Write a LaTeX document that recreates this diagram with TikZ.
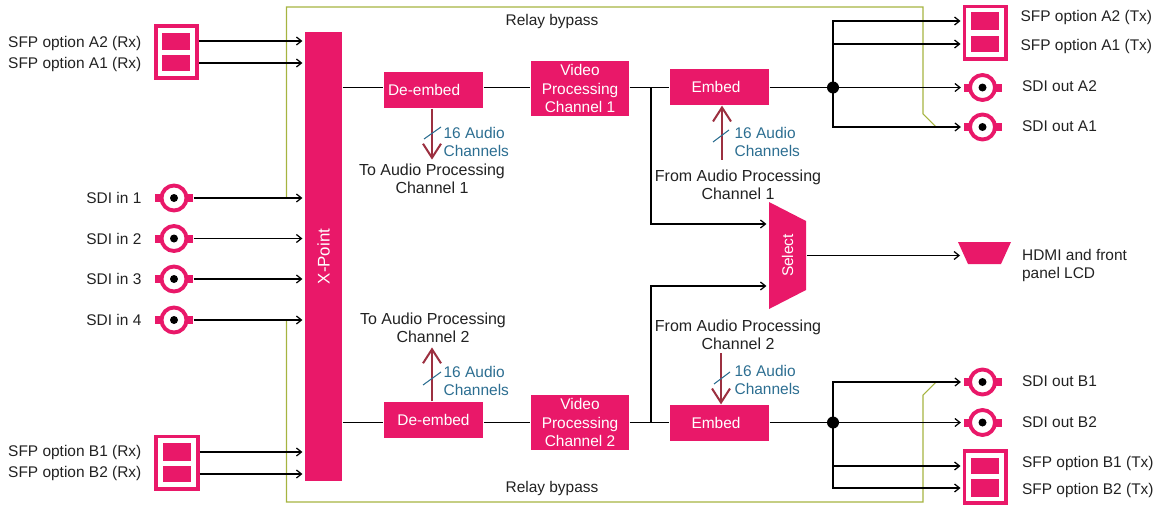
\documentclass[tikz,border=0pt]{standalone}
\usepackage{fontspec}
\setmainfont{Liberation Sans}
\usetikzlibrary{arrows.meta, positioning, calc}
\definecolor{sigpink}{HTML}{E91869}
\definecolor{bypass}{HTML}{A6B440}
\definecolor{audiored}{HTML}{9C3040}
\definecolor{audioblue}{HTML}{2C6E91}
\definecolor{labelgray}{HTML}{222222}

\tikzset{
  every node/.style={font=\fontsize{8.8}{10.4}\selectfont, text=labelgray, align=center},
  procbox/.style={fill=sigpink, text=white, inner sep=0pt, minimum width=1.98cm, minimum height=.72cm},
  videobox/.style={procbox, minimum width=1.96cm, minimum height=1.1cm},
  cage/.style={draw=sigpink, fill=white, line width=2pt, inner sep=0pt, minimum width=.83cm, minimum height=1.05cm},
  slot/.style={fill=sigpink, inner sep=0pt, minimum width=.56cm},
  rlabel/.style={anchor=east, align=right, inner sep=0pt},
  llabel/.style={anchor=west, align=left, inner sep=0pt},
  audiolab/.style={font=\fontsize{9.1}{10.4}\selectfont},
  audio/.style={draw=audiored, line width=1.15pt, shorten >=0pt, -{Straight Barb[length=.28cm,width=.36cm]}},
  chan/.style={anchor=west, align=left, inner sep=0pt, text=audioblue},
  slash/.style={-, draw=audioblue, line width=.6pt, shorten >=0pt},
  bnc/.pic={
    \node[fill=sigpink, inner sep=0pt, minimum width=.76cm, minimum height=.16cm] (-tab) at (0,0) {};
    \node[circle, draw=sigpink, fill=white, line width=2.2pt, inner sep=0pt, minimum size=.5cm] (-ring) at (0,0) {};
    \node[circle, fill=black, inner sep=0pt, minimum size=.16cm] (-pin) at (0,0) {};
  }
}

\begin{document}
\begin{tikzpicture}[x=.02cm,y=-.02cm,->,>={Straight Barb[length=.1cm,width=.16cm]},shorten >=.04cm,line width=.7pt]
  \useasboundingbox (0,0) rectangle (1155,504);

  % relay bypass path
  \draw[-, draw=bypass, line width=.6pt, shorten >=0pt] (286.5,197) |- (923,7) -- (923,114) -- (936,127);
  \draw[-, draw=bypass, line width=.6pt, shorten >=0pt] (286.5,320) |- (923,502) -- (923,395) -- (936,382);
  \node (bypasstop) at (552,21.5) {Relay bypass};
  \node (bypassbot) at (552,488.5) {Relay bypass};

  % main blocks
  \node[procbox, font=\fontsize{9.6}{10.4}\selectfont, minimum width=.74cm, minimum height=8.98cm] (xpoint) at (323.5,256.5) {\rotatebox{90}{X-Point}};
  \node[procbox, text width=1.82cm, align=left, inner xsep=.08cm] (deembed1) at (433.5,90) {De-embed};
  \node[procbox] (deembed2) at (433.5,420) {De-embed};
  \node[videobox] (video1) at (580,88.5) {Video\\Processing\\Channel 1};
  \node[videobox] (video2) at (580,422.5) {Video\\Processing\\Channel 2};
  \node[procbox] (embed1) at (719.5,87) {Embed\hspace{.14cm}};
  \node[procbox] (embed2) at (719.5,423) {Embed\hspace{.14cm}};

  \fill[sigpink] (769,202) -- (806,221) -- (806,290) -- (769,309) -- cycle;
  \node[text=white, inner sep=0pt, minimum width=.74cm, minimum height=2.14cm] (select) at (787.5,255.5) {\rotatebox{90}{Select}};
  \fill[sigpink] (958,242) -- (1011,242) -- (1001,264) -- (968,264) -- cycle;
  \coordinate (hdmi) at (962,255.5);

  % sfp cages
  \node[cage] (sfprxa) at (176.5,52) {};
  \node[slot, minimum height=.34cm] (rxa2) at (176,41) {};
  \node[slot, minimum height=.32cm] (rxa1) at (176,63) {};
  \node[cage] (sfprxb) at (177,462.5) {};
  \node[slot, minimum height=.36cm] (rxb1) at (177,452) {};
  \node[slot, minimum height=.32cm] (rxb2) at (177,474) {};
  \node[cage] (sfptxa) at (985,32.5) {};
  \node[slot, minimum height=.36cm] (txa2) at (985,21) {};
  \node[slot, minimum height=.32cm] (txa1) at (985,44) {};
  \node[cage] (sfptxb) at (985,477) {};
  \node[slot, minimum height=.32cm] (txb1) at (985,466) {};
  \node[slot, minimum height=.36cm] (txb2) at (985,488) {};

  % sdi connectors
  \foreach \n/\y in {1/198,2/238.5,3/279,4/320} {
    \pic (in\n) at (174,\y) {bnc};
    \node[rlabel] (inlabel\n) at (142,\y) {SDI in \n};
    \path (in\n-tab.east) edge (xpoint.west |- in\n-tab.east);
  }
  \pic (outa2) at (982.5,87.5) {bnc};
  \pic (outa1) at (982.5,127) {bnc};
  \pic (outb1) at (982.5,382) {bnc};
  \pic (outb2) at (982.5,422.5) {bnc};

  % junctions
  \node[circle, fill=black, inner sep=0pt, minimum size=.24cm] (junca) at (833,87.5) {};
  \node[circle, fill=black, inner sep=0pt, minimum size=.24cm] (juncb) at (833,422.5) {};
  \coordinate (brancha) at (651,87.5);
  \coordinate (branchb) at (651,422.5);

  % text at the sides
  \node[rlabel] (labrxa2) at (142,43) {SFP option A2 (Rx)};
  \node[rlabel] (labrxa1) at (142,64) {SFP option A1 (Rx)};
  \node[rlabel] (labrxb1) at (142,452) {SFP option B1 (Rx)};
  \node[rlabel] (labrxb2) at (142,473) {SFP option B2 (Rx)};
  \node[llabel] (labtxa2) at (1020,17) {SFP option A2 (Tx)};
  \node[llabel] (labtxa1) at (1020,46) {SFP option A1 (Tx)};
  \node[llabel] (labouta2) at (1021.5,86) {SDI out A2};
  \node[llabel] (labouta1) at (1021.5,126) {SDI out A1};
  \node[llabel] (labhdmi) at (1021.5,265.5) {HDMI and front\\panel LCD};
  \node[llabel] (laboutb1) at (1021.5,381) {SDI out B1};
  \node[llabel] (laboutb2) at (1021.5,422) {SDI out B2};
  \node[llabel] (labtxb1) at (1021.5,463) {SFP option B1 (Tx)};
  \node[llabel] (labtxb2) at (1021.5,490) {SFP option B2 (Tx)};

  % audio labels
  \node[audiolab] (toaudio1) at (432,179) {To Audio Processing\\Channel 1};
  \node[audiolab] (toaudio2) at (433,327.5) {To Audio Processing\\Channel 2};
  \node[audiolab] (fromaudio1) at (738,185) {From Audio Processing\\Channel 1};
  \node[audiolab] (fromaudio2) at (738,334.5) {From Audio Processing\\Channel 2};
  \node[chan] (chan1) at (443,142) {16 Audio\\Channels};
  \node[chan] (chan2) at (443,381) {16 Audio\\Channels};
  \node[chan] (chan3) at (734,142) {16 Audio\\Channels};
  \node[chan] (chan4) at (734,380) {16 Audio\\Channels};

  \path
    (sfprxa.east |- rxa2) edge (xpoint.west |- rxa2)
    (sfprxa.east |- rxa1) edge (xpoint.west |- rxa1)
    (sfprxb.east |- rxb1) edge (xpoint.west |- rxb1)
    (sfprxb.east |- rxb2) edge (xpoint.west |- rxb2)
    (select.east) edge (hdmi)
    (junca.center) edge (outa2-tab.west)
    (juncb.center) edge (outb2-tab.west);
  \draw (junca.center) |- (sfptxa.west |- txa2);
  \draw (junca.center) |- (sfptxa.west |- txa1);
  \draw (junca.center) |- (outa1-tab.west);
  \draw (juncb.center) |- (outb1-tab.west);
  \draw (juncb.center) |- (sfptxb.west |- txb1);
  \draw (juncb.center) |- (sfptxb.west |- txb2);
  \draw (brancha) |- ([yshift=.63cm]select.west);
  \draw (branchb) |- ([yshift=-.61cm]select.west);
  \path[-, shorten >=0pt]
    (xpoint.east |- brancha) edge (deembed1.west |- brancha)
    (deembed1.east |- brancha) edge (video1.west |- brancha)
    (video1.east |- brancha) edge (embed1.west |- brancha)
    (embed1.east |- brancha) edge (junca.center)
    (xpoint.east |- branchb) edge (deembed2.west |- branchb)
    (deembed2.east |- branchb) edge (video2.west |- branchb)
    (video2.east |- branchb) edge (embed2.west |- branchb)
    (embed2.east |- branchb) edge (juncb.center);

  % audio channels
  \draw[audio] ([xshift=-.03cm]deembed1.south) -- ([xshift=-.03cm,yshift=-1.02cm]deembed1.south);
  \draw[audio] ([xshift=-.03cm]deembed2.north) -- ([xshift=-.03cm,yshift=1.08cm]deembed2.north);
  \draw[audio] ([xshift=.05cm,yshift=-1.08cm]embed1.south) -- ([xshift=.05cm]embed1.south);
  \draw[audio] ([xshift=.03cm,yshift=1.02cm]embed2.north) -- ([xshift=.03cm]embed2.north);
  \draw[slash] (chan1.west) ++(-19,-3) -- ++(17,-12);
  \draw[slash] (chan2.west) ++(-20,4) -- ++(18,-13);
  \draw[slash] (chan3.west) ++(-21,0) -- ++(16,-12);
  \draw[slash] (chan4.west) ++(-20,4) -- ++(16,-12);
\end{tikzpicture}
\end{document}
